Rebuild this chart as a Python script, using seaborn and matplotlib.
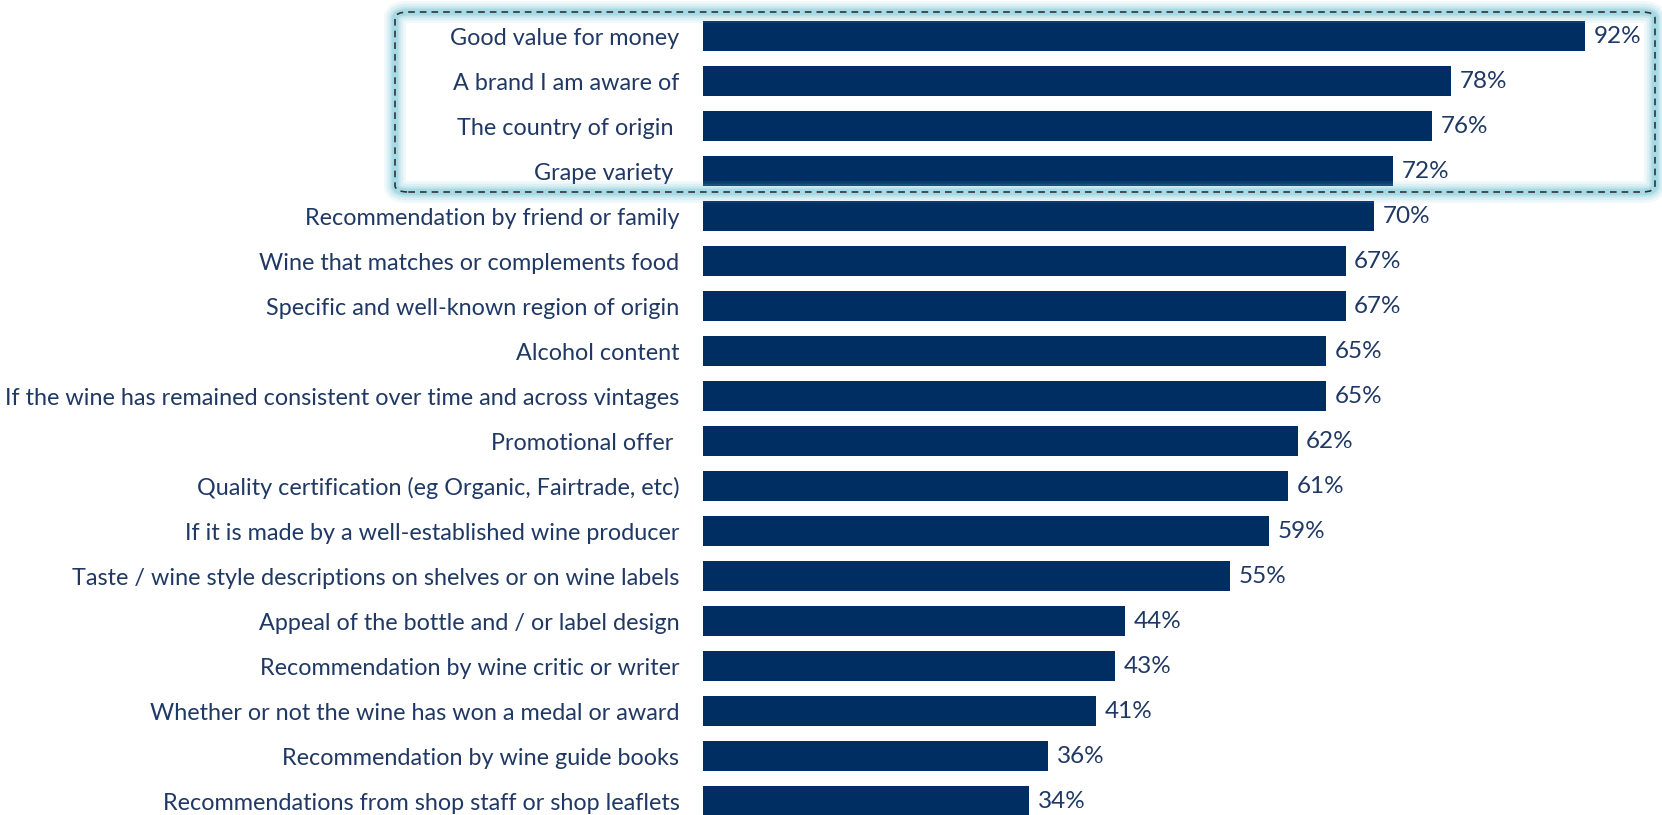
import numpy as np
import pandas as pd
import matplotlib.pyplot as plt
import seaborn as sns
from matplotlib.patches import FancyBboxPatch

# 数据
factors = [
    "Good value for money",
    "A brand I am aware of",
    "The country of origin ",
    "Grape variety ",
    "Recommendation by friend or family",
    "Wine that matches or complements food",
    "Specific and well-known region of origin",
    "Alcohol content",
    "If the wine has remained consistent over time and across vintages",
    "Promotional offer ",
    "Quality certification (eg Organic, Fairtrade, etc)",
    "If it is made by a well-established wine producer",
    "Taste / wine style descriptions on shelves or on wine labels",
    "Appeal of the bottle and / or label design",
    "Recommendation by wine critic or writer",
    "Whether or not the wine has won a medal or award",
    "Recommendation by wine guide books",
    "Recommendations from shop staff or shop leaflets",
]
shares = [92, 78, 76, 72, 70, 67, 67, 65, 65, 62, 61, 59, 55, 44, 43, 41, 36, 34]

df = pd.DataFrame({'factor': factors, 'share': shares})

bar_color = '#002D62'
text_color = '#1F3864'

sns.set_style('white')
plt.rcParams['font.family'] = ['Lato', 'DejaVu Sans']

fig = plt.figure(figsize=(16.62, 8.15), dpi=100)
ax = fig.add_axes([703 / 1662, 0, 1 - 703 / 1662, 1])

sns.barplot(data=df, x='share', y='factor', color=bar_color, saturation=1,
            width=0.667, ax=ax, edgecolor='none')

ax.set_xlim(0, 100)
ax.set_ylim(17 + 14 / 45, -36 / 45)
ax.set_xlabel('')
ax.set_ylabel('')
ax.set_xticks([])
sns.despine(ax=ax, left=True, bottom=True)
ax.tick_params(axis='y', length=0, pad=17, labelsize=16.8, labelcolor=text_color)

# 数值标签
for i, v in enumerate(df['share']):
    ax.text(v + 0.9, i, "%d%%" % v, ha='left', va='center', fontsize=17.5, color=text_color)

# 高亮框（带发光）
x0, y0 = 395 / 1662, 1 - 192 / 815
w, h = (1655 - 395) / 1662, (192 - 12) / 815
for lw, a in [(16, 0.10), (12, 0.15), (8, 0.22), (5, 0.32)]:
    fig.patches.append(FancyBboxPatch((x0, y0), w, h, boxstyle='round,pad=0,rounding_size=0.008',
                                      transform=fig.transFigure, fill=False,
                                      edgecolor='#6FC3D6', linewidth=lw, alpha=a))
fig.patches.append(FancyBboxPatch((x0, y0), w, h, boxstyle='round,pad=0,rounding_size=0.008',
                                  transform=fig.transFigure, fill=False,
                                  edgecolor='#333333', linewidth=1.2, linestyle=(0, (4, 3))))

plt.savefig('out.png', dpi=100)
